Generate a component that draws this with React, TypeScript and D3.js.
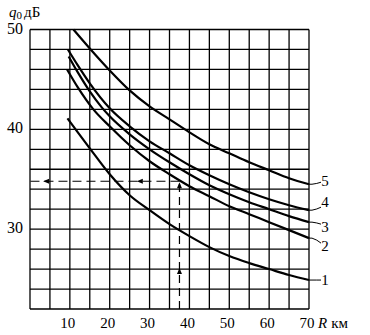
import React, { useEffect, useRef } from 'react';
import * as d3 from 'd3';

// curve points: [R km, q0 dB]
const curve1 = [[9.4, 41.1], [12, 39.7], [15, 38.1], [20, 35.5], [25, 33.4], [30, 31.9], [35, 30.5], [40, 29.3], [45, 28.2], [50, 27.3], [55, 26.6], [60, 26.0], [65, 25.4], [70, 24.9]];
const curve2 = [[9.3, 46.0], [12, 44.2], [15.9, 42.0], [20, 40.3], [25, 38.4], [30, 36.8], [35, 35.5], [40, 34.3], [45, 33.3], [50, 32.3], [55, 31.5], [60, 30.7], [65, 29.9], [70, 29.1]];
const curve3 = [[9.7, 47.3], [12, 45.7], [15, 43.8], [18, 42.2], [20, 41.3], [25, 39.5], [30, 38.0], [35, 36.7], [40, 35.5], [45, 34.4], [50, 33.5], [55, 32.7], [60, 32.0], [65, 31.3], [70, 30.7]];
const curve4 = [[9.5, 48.0], [12, 46.4], [15, 44.6], [20, 42.1], [25, 40.3], [30, 38.8], [35, 37.6], [40, 36.4], [45, 35.4], [50, 34.5], [55, 33.7], [60, 33.0], [65, 32.4], [70, 31.9]];
const curve5 = [[10.9, 50.0], [15, 48.1], [20, 45.9], [25, 43.9], [30, 42.3], [35, 41.0], [40, 39.7], [45, 38.5], [50, 37.6], [55, 36.7], [60, 35.9], [65, 35.1], [70, 34.5]];

const curves = [curve1, curve2, curve3, curve4, curve5];
const curveNames = ['1', '2', '3', '4', '5'];

const xTicks = [10, 20, 30, 40, 50, 60, 70];
const yTicks = [30, 40, 50];

// reading example: R = 37.5 km -> q0 = 34.8 dB
const exampleR = 37.5;
const exampleQ = 34.8;

const App = () => {
  const ref = useRef(null);

  useEffect(() => {
    const svg = d3.select(ref.current);
    svg.selectAll('*').remove();

    const left = 30, right = 309, top = 29.5, bottom = 309;
    const font = "'Liberation Serif', 'Times New Roman', 'DejaVu Serif', serif";

    const x = d3.scaleLinear().domain([0, 70]).range([left, right]);
    const y = d3.scaleLinear().domain([22, 50]).range([bottom, top]);

    // grid, every 5 km and every 2 dB
    const g = svg.append('g');
    g.selectAll('.vline')
      .data(d3.range(0, 70.1, 5))
      .enter().append('line')
      .attr('x1', d => x(d)).attr('x2', d => x(d))
      .attr('y1', top).attr('y2', bottom)
      .attr('stroke', '#000').attr('stroke-width', 1.3);
    g.selectAll('.hline')
      .data(d3.range(22, 50.1, 2))
      .enter().append('line')
      .attr('x1', left).attr('x2', right)
      .attr('y1', d => y(d)).attr('y2', d => y(d))
      .attr('stroke', '#000').attr('stroke-width', 1.3);

    // curves
    const line = d3.line()
      .x(d => x(d[0]))
      .y(d => y(d[1]))
      .curve(d3.curveMonotoneX);

    svg.selectAll('.curve')
      .data(curves)
      .enter().append('path')
      .attr('d', d => line(d))
      .attr('fill', 'none')
      .attr('stroke', '#000')
      .attr('stroke-width', 2.2);

    // leaders + curve numbers
    const leaderDy = [0, 5, 2, -3, -2];
    const labelDy = [0, 8, 5, -8, -3];
    curves.forEach((c, i) => {
      const last = c[c.length - 1];
      const ex = x(last[0]), ey = y(last[1]);
      svg.append('path')
        .attr('d', `M${ex},${ey} L${ex + 3},${ey} Q${ex + 8},${ey + leaderDy[i] * 0.3} ${ex + 12},${ey + leaderDy[i]}`)
        .attr('fill', 'none').attr('stroke', '#000').attr('stroke-width', 1);
      svg.append('text')
        .attr('x', ex + 16)
        .attr('y', ey + labelDy[i] + 5)
        .attr('text-anchor', 'middle')
        .attr('font-family', font)
        .attr('font-size', 15)
        .text(curveNames[i]);
    });

    // dashed reading lines
    const px = x(exampleR), py = y(exampleQ);
    svg.append('line')
      .attr('x1', px).attr('x2', px).attr('y1', bottom).attr('y2', py)
      .attr('stroke', '#000').attr('stroke-width', 1.2).attr('stroke-dasharray', '8,5');
    svg.append('line')
      .attr('x1', px).attr('x2', left).attr('y1', py).attr('y2', py)
      .attr('stroke', '#000').attr('stroke-width', 1.2).attr('stroke-dasharray', '9,5');

    const arrow = (ax, ay, dir) => {
      const p = dir === 'left'
        ? `M${ax},${ay} L${ax + 6},${ay - 2.5} L${ax + 6},${ay + 2.5} Z`
        : `M${ax},${ay} L${ax - 2.5},${ay + 6} L${ax + 2.5},${ay + 6} Z`;
      svg.append('path').attr('d', p).attr('fill', '#000');
    };
    arrow(px, py + 1, 'up');
    arrow(px, 268, 'up');
    arrow(x(26.8), py, 'left');
    arrow(x(3.3), py, 'left');

    // y tick labels
    svg.selectAll('.ylab')
      .data(yTicks)
      .enter().append('text')
      .attr('x', 23)
      .attr('y', d => y(d) + 4)
      .attr('text-anchor', 'end')
      .attr('font-family', font)
      .attr('font-size', 16)
      .text(d => d);

    // x tick labels
    svg.selectAll('.xlab')
      .data(xTicks)
      .enter().append('text')
      .attr('x', d => x(d) - 2)
      .attr('y', 328)
      .attr('text-anchor', 'middle')
      .attr('font-family', font)
      .attr('font-size', 15)
      .text(d => d);

    // axis titles
    const xt = svg.append('text')
      .attr('x', 318).attr('y', 328)
      .attr('font-family', font).attr('font-size', 15);
    xt.append('tspan').attr('font-style', 'italic').text('R');
    xt.append('tspan').attr('dx', 4).text('км');

    const yt = svg.append('text')
      .attr('x', 9).attr('y', 17)
      .attr('font-family', font).attr('font-size', 15);
    yt.append('tspan').attr('font-style', 'italic').text('q');
    yt.append('tspan').attr('dy', 2).attr('font-size', 11).text('0');
    yt.append('tspan').attr('dy', -2).attr('dx', 2).text('дБ');
  }, []);

  return (
    <svg ref={ref} width={370} height={335}
      style={{ position: 'absolute', left: 0, top: 0, background: '#fff' }} />
  );
};

export default App;
